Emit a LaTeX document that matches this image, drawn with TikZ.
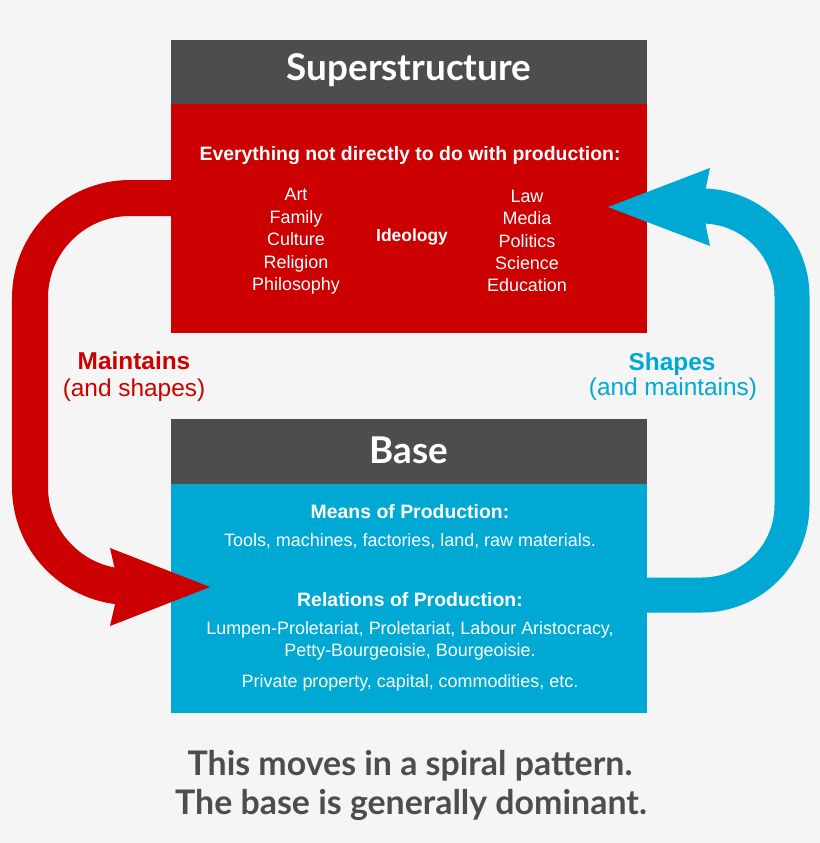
\documentclass[tikz,border=0pt]{standalone}
\usepackage{fontspec}
\setmainfont{Liberation Sans}
\newfontfamily\gill{Lato}
\definecolor{bg}{HTML}{F5F5F5}
\definecolor{myred}{HTML}{CC0000}
\definecolor{myblue}{HTML}{00A9D4}
\definecolor{hdr}{HTML}{4D4D4D}
\definecolor{foot}{HTML}{4D4D4D}
\begin{document}
\begin{tikzpicture}[x=1bp,y=-1bp,
  panel/.style={inner sep=0pt, outer sep=0pt, anchor=north west, minimum width=476bp},
  txt/.style={text=white, inner sep=0pt, anchor=base, font=\fontsize{18}{21}\selectfont},
  btxt/.style={text=white, inner sep=0pt, anchor=base, font=\fontsize{19.5}{22}\selectfont\bfseries},
  ideo/.style={text=white, inner sep=0pt, anchor=base, font=\fontsize{17.5}{21}\selectfont\bfseries},
  title/.style={text=white, inner sep=0pt, anchor=base, font=\gill\bfseries\fontsize{37}{42}\selectfont},
  lbl/.style={inner sep=0pt, anchor=base, font=\fontsize{24.5}{28}\selectfont},
  blbl/.style={inner sep=0pt, anchor=base, font=\fontsize{24.5}{28}\selectfont\bfseries},
  foottxt/.style={text=foot, inner sep=0pt, anchor=base, font=\gill\bfseries\fontsize{34}{40}\selectfont}]
\fill[bg] (0,0) rectangle (820,843);
\useasboundingbox (0,0) rectangle (820,843);
% Superstructure panel
\node[panel, fill=hdr, minimum height=64bp] (suphead) at (171,40) {};
\node[panel, fill=myred, minimum height=229bp] (supbody) at (171,104) {};
\node[title] (suptitle) at (409,80) {Superstructure};
\node[btxt] (everything) at (410,160) {Everything not directly to do with production:};
\node[txt] (art) at (296,200.7) {Art};
\node[txt] (family) at (296,223.2) {Family};
\node[txt] (culture) at (296,245.7) {Culture};
\node[txt] (religion) at (296,268.2) {Religion};
\node[txt] (philosophy) at (296,290.7) {Philosophy};
\node[ideo] (ideology) at (412,241) {Ideology};
\node[txt] (law) at (527,202.3) {Law};
\node[txt] (media) at (527,224.7) {Media};
\node[txt] (politics) at (527,247.1) {Politics};
\node[txt] (science) at (527,269.5) {Science};
\node[txt] (education) at (527,291.9) {Education};
% Base panel
\node[panel, fill=hdr, minimum height=65bp] (basehead) at (171,419) {};
\node[panel, fill=myblue, minimum height=229bp] (basebody) at (171,484) {};
\node[title] (basetitle) at (409,463.3) {Base};
\node[btxt] (means) at (410,518.3) {Means of Production:};
\node[txt] (tools) at (410,546) {Tools, machines, factories, land, raw materials.};
\node[btxt] (relations) at (410,606.7) {Relations of Production:};
\node[txt] (lumpen) at (410,634) {Lumpen-Proletariat, Proletariat, Labour Aristocracy,};
\node[txt] (petty) at (410,656.7) {Petty-Bourgeoisie, Bourgeoisie.};
\node[txt] (private) at (410,687.3) {Private property, capital, commodities, etc.};
% Red arrow (Maintains)
\coordinate (rstart) at (180,198);
\coordinate (rend) at (150,587);
\draw[myred, line width=36bp, rounded corners=100bp] (rstart) -- (30,198) -- (30,587) -- (rend);
\fill[myred] (210,587) -- (110,548) -- (119,587) -- (110,626) -- cycle;
% Blue arrow (Shapes)
\coordinate (bstart) at (640,595);
\coordinate (bend) at (690,206);
\draw[myblue, line width=35bp, rounded corners=90bp] (bstart) -- (792,595) -- (792,206) -- (bend);
\fill[myblue] (608,207) -- (710,168) -- (702,207) -- (710,246) -- cycle;
% Labels
\node[blbl, text=myred] (maint) at (134,369.3) {Maintains};
\node[lbl, text=myred] (maint2) at (134,396.7) {(and shapes)};
\node[blbl, text=myblue] (shapes) at (672,370) {Shapes};
\node[lbl, text=myblue] (shapes2) at (673,395.7) {(and maintains)};
% Footer
\node[foottxt] (foot1) at (410,775) {This moves in a spiral pattern.};
\node[foottxt] (foot2) at (411,814) {The base is generally dominant.};
\end{tikzpicture}
\end{document}
